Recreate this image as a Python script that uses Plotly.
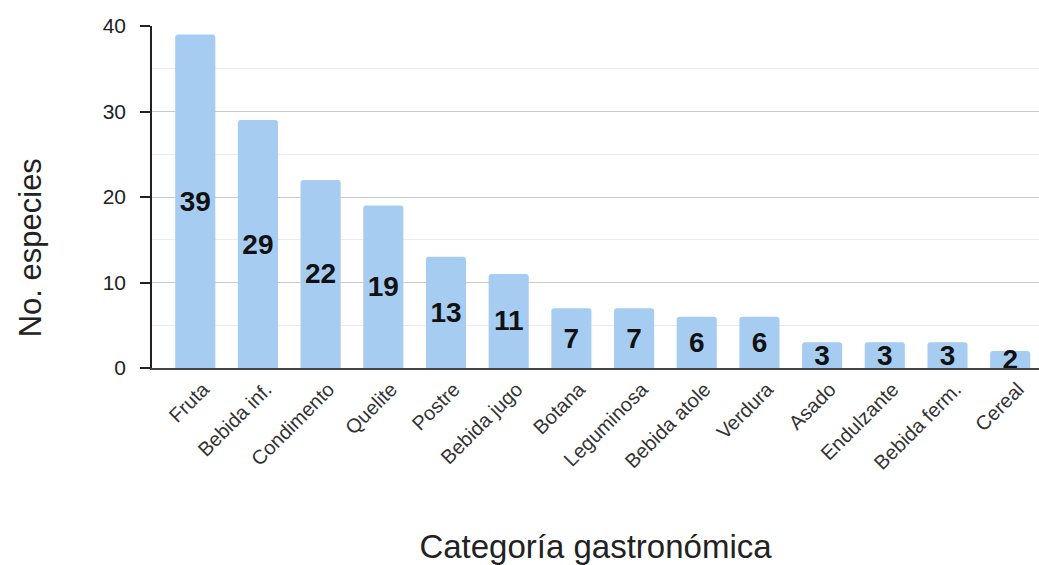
import plotly.graph_objects as go

categories = ["Fruta", "Bebida inf.", "Condimento", "Quelite", "Postre", "Bebida jugo",
              "Botana", "Leguminosa", "Bebida atole", "Verdura", "Asado", "Endulzante",
              "Bebida ferm.", "Cereal"]
especies = [39, 29, 22, 19, 13, 11, 7, 7, 6, 6, 3, 3, 3, 2]
y_ticks = [0, 10, 20, 30, 40]

fig = go.Figure(go.Bar(
    x=categories,
    y=especies,
    width=0.64,
    marker=dict(color="#a6cdf1", cornerradius=3, line=dict(width=0)),
    text=[str(v) for v in especies],
    textposition="inside",
    insidetextanchor="middle",
    constraintext="none",
    textangle=0,
    textfont=dict(family="Liberation Sans, Arial, sans-serif", size=28, color="#111111", weight="bold"),
    cliponaxis=False,
))

fig.update_layout(
    width=1039, height=565,
    margin=dict(l=152, r=0, t=26, b=197),
    plot_bgcolor="white", paper_bgcolor="white",
    showlegend=False,
    font=dict(family="Liberation Sans, Arial, sans-serif", color="#222222"),
)

fig.update_xaxes(
    range=[-0.69, 13.46],
    tickangle=-45,
    tickfont=dict(size=20, color="#333333"),
    ticklabelshift=8,
    showline=True, linecolor="#444444", linewidth=1.5,
    ticks="",
    title=dict(text="Categoría gastronómica", font=dict(size=33, color="#222222"), standoff=66),
)

fig.update_yaxes(
    range=[0, 40],
    tickvals=y_ticks,
    tickfont=dict(size=21, color="#222222"),
    showline=True, linecolor="#222222", linewidth=1.5,
    ticks="outside", ticklen=10, tickcolor="#222222", tickwidth=1.5,
    ticklabelstandoff=10,
    showgrid=True, gridcolor="#c9c9c9", gridwidth=1,
    minor=dict(dtick=5, showgrid=True, gridcolor="#ececec", gridwidth=1, ticks=""),
    zeroline=False,
)

# Y-axis title, placed as a rotated annotation left of the tick labels
fig.add_annotation(
    text="No. especies",
    xref="paper", yref="paper",
    x=-0.1375, y=0.35,
    xanchor="center", yanchor="middle",
    textangle=-90, showarrow=False,
    font=dict(size=31, color="#222222"),
)

fig.write_html("out.html")
